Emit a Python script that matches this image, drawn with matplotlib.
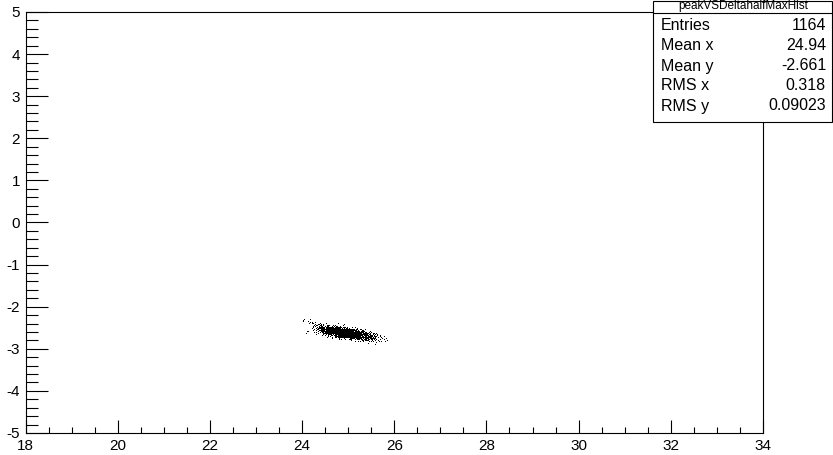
import matplotlib
matplotlib.use('Agg')
import matplotlib.pyplot as plt
from matplotlib.patches import Rectangle
from matplotlib.ticker import MultipleLocator

plt.rcParams['font.family'] = ['Liberation Sans', 'DejaVu Sans']
plt.rcParams['axes.unicode_minus'] = False

# 2D histogram (bins 0.1 wide in x from 24.0, 0.05 tall in y from -2.30 down)
x_lo = 24.0
x_step = 0.1
y_top = -2.30
y_step = 0.05
counts = [
    [2, 1, 0, 0, 0, 0, 0, 0, 0, 0, 0, 0, 0, 0, 0, 0, 0, 0, 0],
    [1, 2, 2, 0, 0, 0, 0, 0, 0, 0, 0, 0, 0, 0, 0, 0, 0, 0, 0],
    [0, 1, 3, 3, 2, 1, 0, 1, 0, 1, 0, 0, 0, 0, 0, 0, 0, 0, 0],
    [0, 0, 3, 6, 7, 6, 5, 3, 2, 1, 0, 0, 0, 0, 0, 0, 0, 0, 0],
    [0, 0, 3, 7, 12, 16, 18, 16, 12, 8, 4, 2, 0, 0, 0, 0, 0, 0, 0],
    [0, 1, 2, 6, 12, 22, 32, 38, 36, 30, 20, 12, 6, 2, 0, 0, 0, 0, 0],
    [1, 1, 1, 3, 8, 16, 26, 38, 48, 50, 44, 32, 18, 10, 4, 1, 0, 0, 0],
    [0, 0, 0, 1, 3, 6, 11, 19, 30, 38, 42, 38, 30, 18, 10, 5, 2, 0, 0],
    [0, 0, 0, 0, 0, 2, 3, 12, 18, 22, 26, 26, 24, 19, 12, 7, 4, 2, 0],
    [0, 0, 0, 0, 0, 0, 1, 1, 2, 3, 6, 8, 10, 11, 9, 6, 3, 2, 1],
    [0, 0, 0, 0, 0, 0, 0, 0, 0, 0, 1, 1, 3, 4, 4, 3, 2, 2, 1],
    [0, 0, 0, 0, 0, 0, 0, 0, 0, 0, 0, 0, 0, 0, 1, 1, 1, 0, 0],
]

hist_name = 'peakVSDeltahalfMaxHist'
stats_labels = ['Entries', 'Mean x', 'Mean y', 'RMS x', 'RMS y']
stats_values = ['1164', '24.94', '-2.661', '0.318', '0.09023']


def halton(i, b):
    f = 1.0
    r = 0.0
    while i > 0:
        f = f / b
        r = r + f * (i % b)
        i = i // b
    return r


# scatter-style drawing: n dots spread over each bin
px = []
py = []
k = 1
for r, row in enumerate(counts):
    for c, n in enumerate(row):
        for j in range(n):
            px.append(x_lo + (c + halton(k, 2)) * x_step)
            py.append(y_top - (r + halton(k, 3)) * y_step)
            k = k + 1

W, H = 833, 455
fig = plt.figure(figsize=(W / 100, H / 100), dpi=100)
ax = fig.add_axes([25.5 / W, 22 / H, (763 - 25.5) / W, (433 - 12) / H])
ax.plot(px, py, ',', color='black')

ax.set_xlim(18, 34)
ax.set_ylim(-5, 5)
ax.xaxis.set_major_locator(MultipleLocator(2))
ax.xaxis.set_minor_locator(MultipleLocator(0.5))
ax.yaxis.set_major_locator(MultipleLocator(1))
ax.yaxis.set_minor_locator(MultipleLocator(0.2))
ax.tick_params(which='both', direction='in', top=False, right=False, width=0.8, labelsize=11)
ax.tick_params(axis='x', which='major', length=9.5, pad=4)
ax.tick_params(axis='x', which='minor', length=4.5)
ax.tick_params(axis='y', which='major', length=16, pad=4)
ax.tick_params(axis='y', which='minor', length=8.5)
for s in ax.spines.values():
    s.set_linewidth(0.8)

# stats box
fig.add_artist(Rectangle((653 / W, 1 - 121.5 / H), (831.5 - 653) / W, 121 / H,
                         transform=fig.transFigure, facecolor='white', edgecolor='black', lw=0.8))
fig.add_artist(plt.Line2D([653 / W, 831.5 / W], [1 - 13.3 / H, 1 - 13.3 / H],
                          transform=fig.transFigure, color='black', lw=0.8))
fig.text(743 / W, 1 - 6 / H, hist_name, ha='center', va='center', fontsize=8.5)
for i in range(len(stats_labels)):
    yy = 1 - (26 + 20 * i) / H
    fig.text(661 / W, yy, stats_labels[i], ha='left', va='center', fontsize=11.5)
    fig.text(826 / W, yy, stats_values[i], ha='right', va='center', fontsize=11.5)

fig.savefig('out.png', dpi=100)
